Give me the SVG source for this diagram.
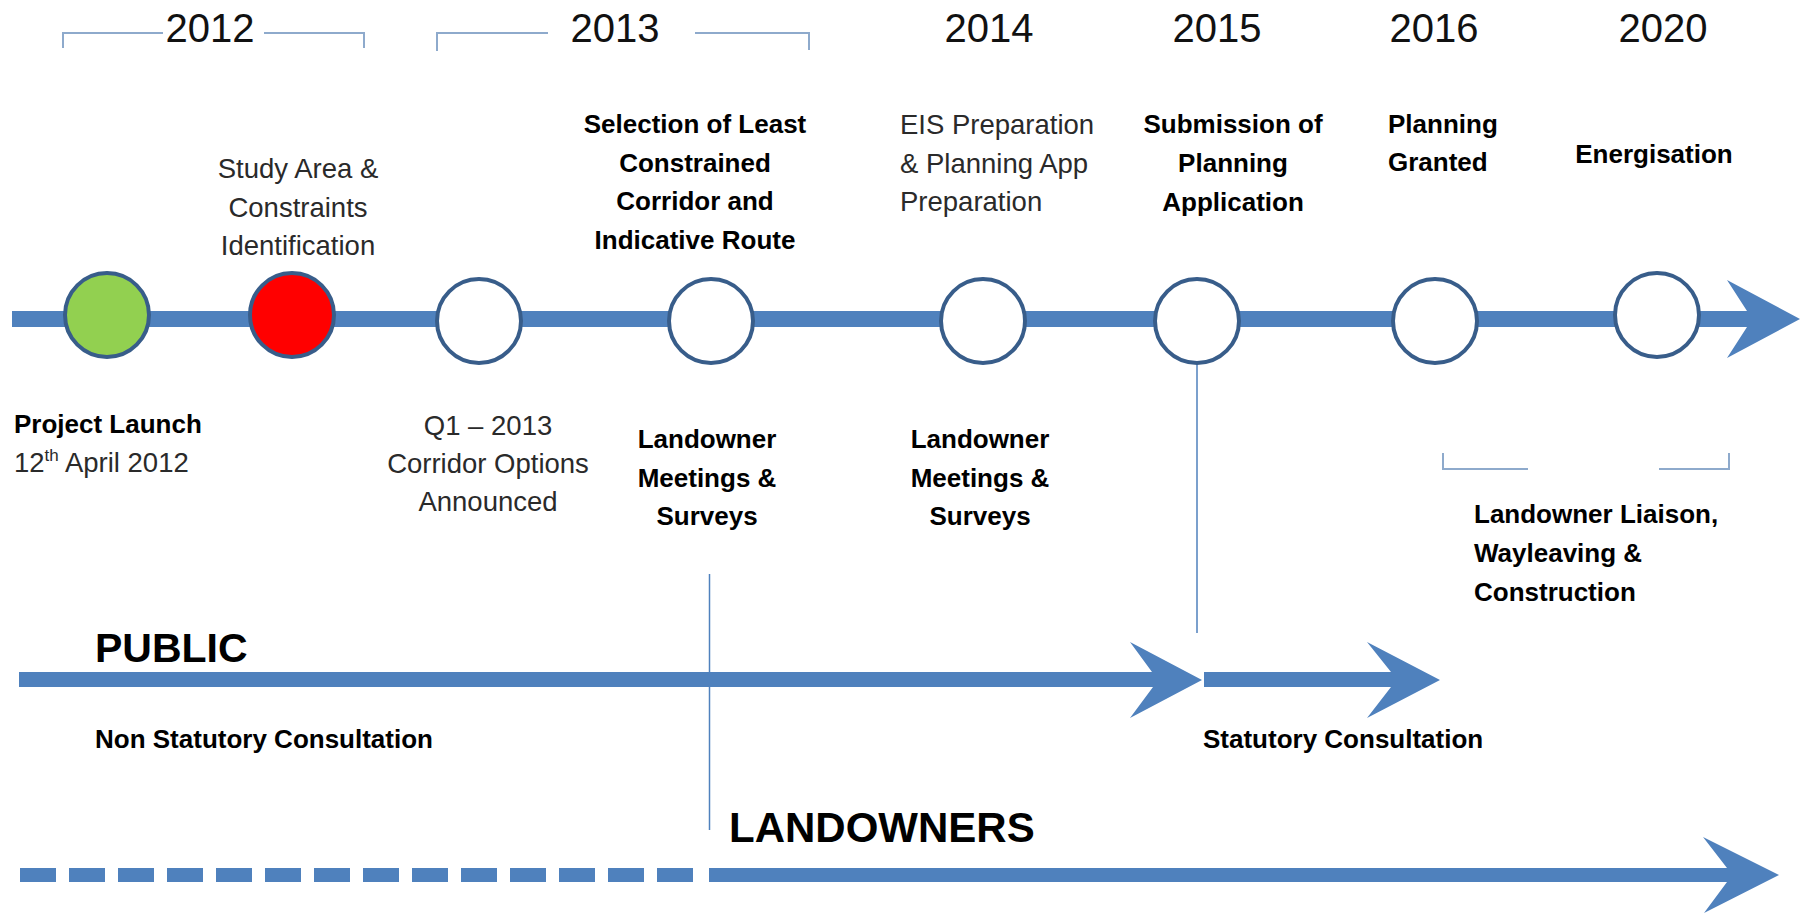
<svg xmlns="http://www.w3.org/2000/svg" width="1802" height="915" viewBox="0 0 1802 915">
<style>
text{font-family:"Liberation Sans",Arial,sans-serif}
.yr{font-size:40px;fill:#111;text-anchor:middle}
.reg{font-size:27.5px;fill:#2a2a2a}
.b{font-size:26px;font-weight:bold;fill:#000}
.c{text-anchor:middle}
.big{font-weight:bold;fill:#000}
.bar{fill:#4f81bd}
.thin{stroke:#4f81bd;stroke-width:1.5;fill:none}
.brk{stroke:#8eaacc;stroke-width:2;fill:none}
.ms{stroke:#385d8a;stroke-width:4}
</style>
<rect width="1802" height="915" fill="#fff"/>
<g id="years">
<text class="yr" x="210" y="42">2012</text>
<text class="yr" x="615" y="42">2013</text>
<text class="yr" x="989" y="42">2014</text>
<text class="yr" x="1217" y="42">2015</text>
<text class="yr" x="1434" y="42">2016</text>
<text class="yr" x="1663" y="42">2020</text>
<polyline class="brk" points="63,48 63,33 163,33"/>
<polyline class="brk" points="264,33 364,33 364,48"/>
<polyline class="brk" points="437,51 437,33 548,33"/>
<polyline class="brk" points="695,33 809,33 809,50"/>
</g>
<g id="connectors">
<path class="bar" d="M12,311 H1747 L1727,280 L1800,319 L1727,358 L1747,327 H12 Z"/>
<line class="thin" x1="709.5" y1="574" x2="709.5" y2="830"/>
<line class="thin" x1="1197" y1="363" x2="1197" y2="633"/>
<path class="bar" d="M19,672 H1152 L1130,642 L1202,680 L1130,718 L1153,687 H19 Z"/>
<path class="bar" d="M1204,672 H1391 L1367,642 L1440,680 L1367,718 L1391,687 H1204 Z"/>
<line x1="20" y1="875" x2="693" y2="875" stroke="#4f81bd" stroke-width="14" stroke-dasharray="36 13"/>
<path class="bar" d="M709,868 H1727 L1703,837 L1779,875 L1704,913 L1727,882 H709 Z"/>
</g>
<g id="n-launch">
<circle class="ms" cx="107" cy="315" r="42" fill="#92d050"/>
<text class="b" x="14" y="433">Project Launch</text>
<text class="reg" x="14" y="472">12<tspan font-size="17" dy="-11">th</tspan><tspan dy="11"> April 2012</tspan></text>
</g>
<g id="n-study">
<circle class="ms" cx="292" cy="315" r="42" fill="#ff0000"/>
<text class="reg c" x="298" y="178">Study Area &amp;</text>
<text class="reg c" x="298" y="216.5">Constraints</text>
<text class="reg c" x="298" y="255">Identification</text>
</g>
<g id="n-q1">
<circle class="ms" cx="479" cy="321" r="42" fill="#fff"/>
<text class="reg c" x="488" y="435">Q1 – 2013</text>
<text class="reg c" x="488" y="473">Corridor Options</text>
<text class="reg c" x="488" y="511">Announced</text>
</g>
<g id="n-selection">
<circle class="ms" cx="711" cy="321" r="42" fill="#fff"/>
<text class="b c" x="695" y="133">Selection of Least</text>
<text class="b c" x="695" y="171.5">Constrained</text>
<text class="b c" x="695" y="210">Corridor and</text>
<text class="b c" x="695" y="248.5">Indicative Route</text>
<text class="b c" x="707" y="448">Landowner</text>
<text class="b c" x="707" y="486.5">Meetings &amp;</text>
<text class="b c" x="707" y="525">Surveys</text>
</g>
<g id="n-eis">
<circle class="ms" cx="983" cy="321" r="42" fill="#fff"/>
<text class="reg" x="900" y="134">EIS Preparation</text>
<text class="reg" x="900" y="172.5">&amp; Planning App</text>
<text class="reg" x="900" y="211">Preparation</text>
<text class="b c" x="980" y="448">Landowner</text>
<text class="b c" x="980" y="486.5">Meetings &amp;</text>
<text class="b c" x="980" y="525">Surveys</text>
</g>
<g id="n-submission">
<circle class="ms" cx="1197" cy="321" r="42" fill="#fff"/>
<text class="b c" x="1233" y="133">Submission of</text>
<text class="b c" x="1233" y="172">Planning</text>
<text class="b c" x="1233" y="211">Application</text>
</g>
<g id="n-granted">
<circle class="ms" cx="1435" cy="321" r="42" fill="#fff"/>
<text class="b" x="1388" y="133">Planning</text>
<text class="b" x="1388" y="171">Granted</text>
</g>
<g id="n-energisation">
<circle class="ms" cx="1657" cy="315" r="42" fill="#fff"/>
<text class="b c" x="1654" y="163">Energisation</text>
</g>
<g id="n-liaison">
<polyline class="brk" points="1443,453 1443,469 1528,469"/>
<polyline class="brk" points="1659,469 1729,469 1729,453"/>
<text class="b" x="1474" y="523">Landowner Liaison,</text>
<text class="b" x="1474" y="562">Wayleaving &amp;</text>
<text class="b" x="1474" y="601">Construction</text>
</g>
<g id="public">
<text class="big" x="95" y="662" font-size="41">PUBLIC</text>
<text class="b" x="95" y="748">Non Statutory Consultation</text>
<text class="b" x="1203" y="748">Statutory Consultation</text>
</g>
<g id="landowners">
<text class="big" x="729" y="842" font-size="42">LANDOWNERS</text>
</g>
</svg>
